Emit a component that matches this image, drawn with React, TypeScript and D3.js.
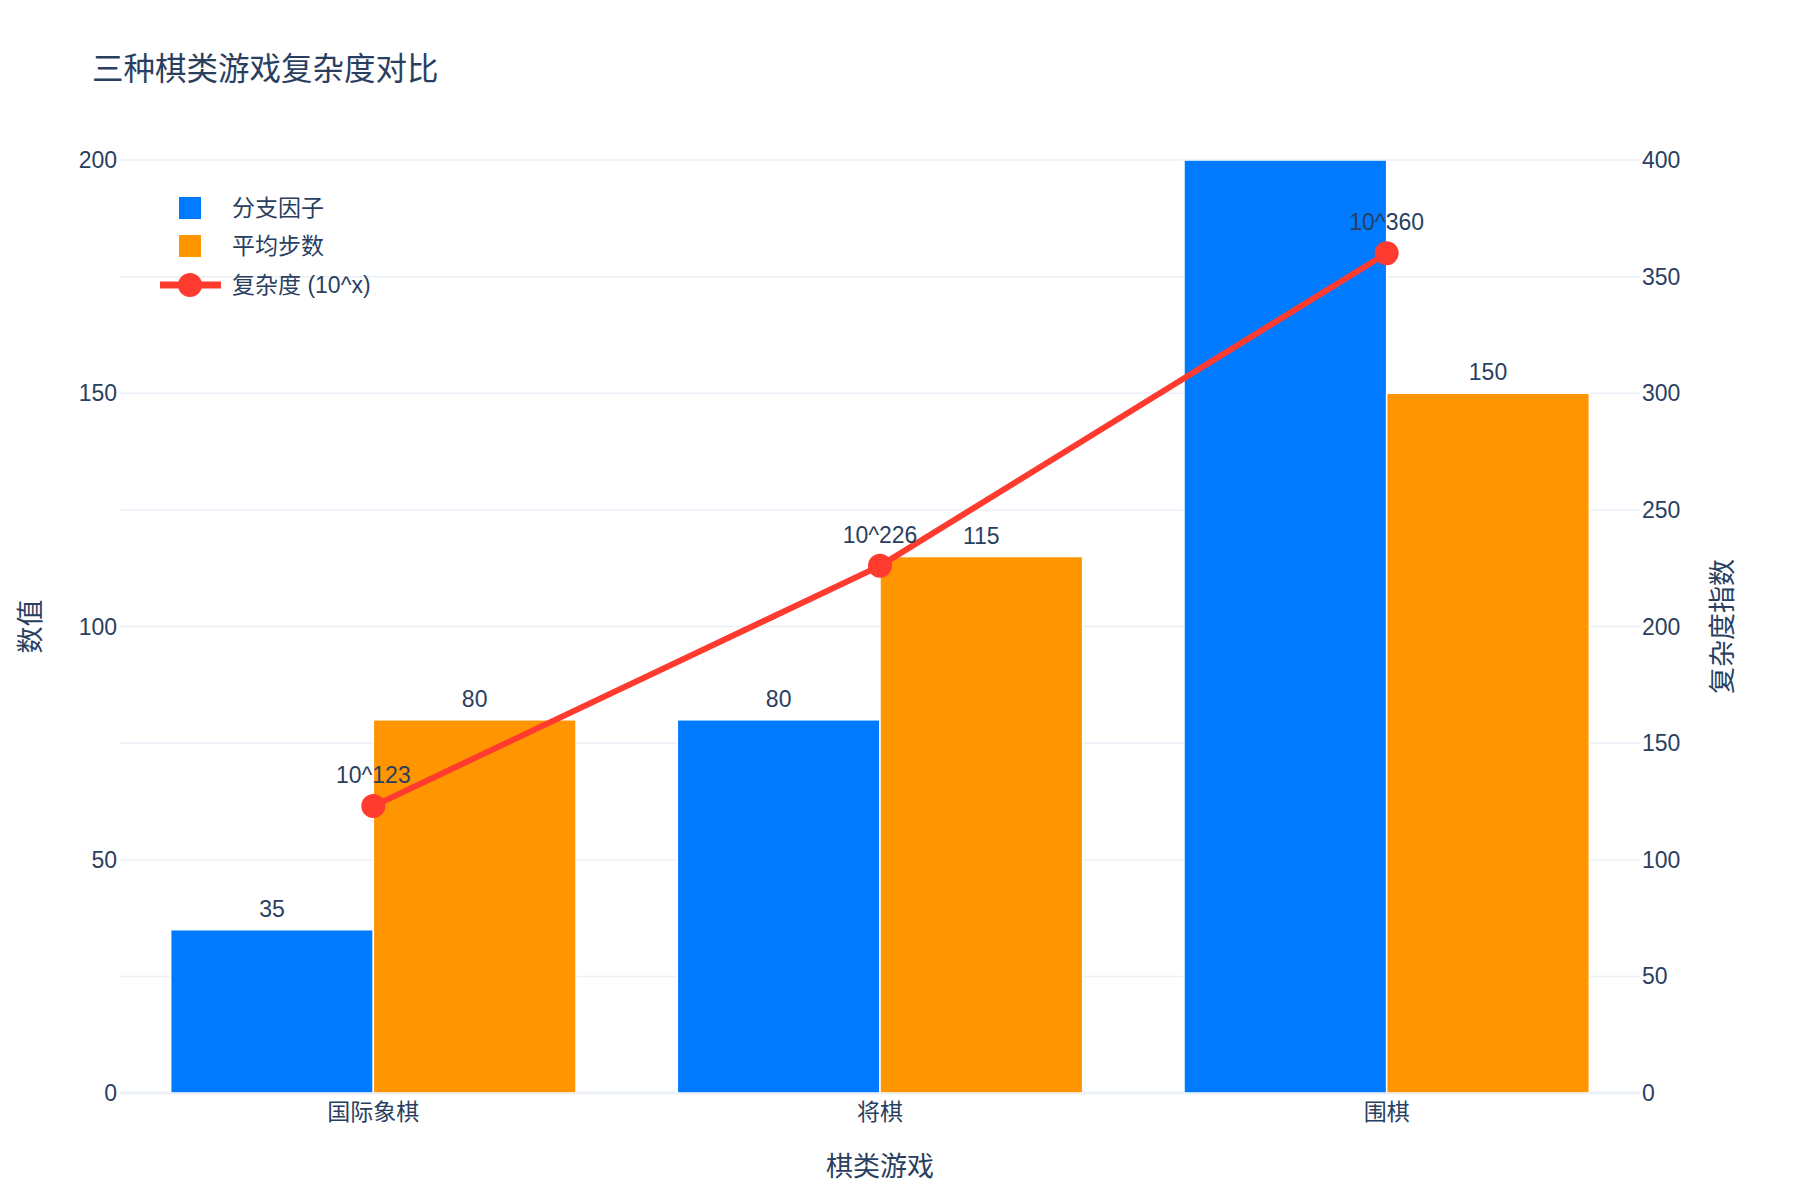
import * as d3 from 'd3'

const categories = ['国际象棋', '将棋', '围棋']
const branchFactor = [35, 80, 250]
const avgMoves = [80, 115, 150]
const complexity = [123, 226, 360]
const complexityLabels = ['10^123', '10^226', '10^360']
const leftTicks = [0, 50, 100, 150, 200]
const rightTicks = [0, 50, 100, 150, 200, 250, 300, 350, 400]

const seriesNames = ['分支因子', '平均步数', '复杂度 (10^x)']

const W = 1800
const H = 1200
const margin = { top: 160, right: 160, bottom: 107, left: 120 }
const FONT = '"Liberation Sans", Arial, "Noto Sans CJK SC", sans-serif'
const TEXT = '#2a3f5f'
const GRID = '#EBF0F8'
const BLUE = '#007AFF'
const ORANGE = '#FF9500'
const RED = '#FF3B30'

export default function App() {
  const x0 = margin.left
  const x1 = W - margin.right
  const yTop = margin.top
  const yBot = H - margin.bottom

  const x = d3.scaleBand<string>().domain(categories).range([x0, x1]).paddingInner(0.2).paddingOuter(0.1)
  // plotly style bargap: step per category, group = 80% of step
  const step = (x1 - x0) / categories.length
  const center = (i: number) => x0 + step * (i + 0.5)
  const groupW = step * 0.8
  const inner = d3.scaleBand<number>().domain([0, 1]).range([-groupW / 2, groupW / 2])

  const y = d3.scaleLinear().domain([0, 200]).range([yBot, yTop])
  const y2 = d3.scaleLinear().domain([0, 400]).range([yBot, yTop])

  const gridVals = Array.from(new Set([...leftTicks.map(t => y(t)), ...rightTicks.map(t => y2(t))]))

  const line = d3
    .line<number>()
    .x((_, i) => center(i))
    .y(d => y2(d))

  const bars = [
    { name: seriesNames[0], values: branchFactor, color: BLUE },
    { name: seriesNames[1], values: avgMoves, color: ORANGE },
  ]

  void x

  return (
    <svg width={W} height={H} style={{ position: 'absolute', left: 0, top: 0, background: '#fff' }} fontFamily={FONT}>
      <defs>
        <clipPath id="plot-clip">
          <rect x={x0} y={yTop} width={x1 - x0} height={yBot - yTop} />
        </clipPath>
      </defs>

      {/* title */}
      <text x={92} y={69 + 11} fontSize={31.5} fill={TEXT}>
        三种棋类游戏复杂度对比
      </text>

      {/* grid */}
      {gridVals.map(v => (
        <line key={v} x1={x0} x2={x1} y1={v} y2={v} stroke={GRID} strokeWidth={1.5} />
      ))}
      <line x1={x0} x2={x1} y1={yBot} y2={yBot} stroke={GRID} strokeWidth={3} />

      {/* bars */}
      <g clipPath="url(#plot-clip)">
        {bars.map((s, si) =>
          s.values.map((v, i) => {
            const bx = center(i) + inner(si)!
            const top = y(Math.min(v, 200))
            return (
              <rect
                key={s.name + i}
                x={bx}
                y={top}
                width={inner.bandwidth()}
                height={yBot - top}
                fill={s.color}
                stroke="#fff"
                strokeWidth={1.5}
              />
            )
          })
        )}
      </g>

      {/* bar labels */}
      {bars.map((s, si) =>
        s.values.map((v, i) =>
          v <= 200 ? (
            <text
              key={'l' + s.name + i}
              x={center(i) + inner(si)! + inner.bandwidth() / 2}
              y={y(v) - 13}
              textAnchor="middle"
              fontSize={23}
              fill={TEXT}
            >
              {v}
            </text>
          ) : null
        )
      )}

      {/* complexity line */}
      <path d={line(complexity) ?? ''} fill="none" stroke={RED} strokeWidth={6} />
      {complexity.map((v, i) => (
        <circle key={'m' + i} cx={center(i)} cy={y2(v)} r={12} fill={RED} />
      ))}
      {complexity.map((v, i) => (
        <text key={'t' + i} x={center(i)} y={y2(v) - 23} textAnchor="middle" fontSize={23} fill={TEXT}>
          {complexityLabels[i]}
        </text>
      ))}

      {/* left axis */}
      {leftTicks.map(t => (
        <text key={'yl' + t} x={117} y={y(t) + 8} textAnchor="end" fontSize={23} fill={TEXT}>
          {t}
        </text>
      ))}
      {/* right axis */}
      {rightTicks.map(t => (
        <text key={'yr' + t} x={1642} y={y2(t) + 8} textAnchor="start" fontSize={23} fill={TEXT}>
          {t}
        </text>
      ))}
      {/* x axis */}
      {categories.map((c, i) => (
        <text key={c} x={center(i)} y={1112 + 8} textAnchor="middle" fontSize={23} fill={TEXT}>
          {c}
        </text>
      ))}

      {/* axis titles */}
      <text x={880} y={1166 + 9.5} textAnchor="middle" fontSize={27} fill={TEXT}>
        棋类游戏
      </text>
      <text
        transform={`translate(${30 + 9.5},${(yTop + yBot) / 2}) rotate(-90)`}
        textAnchor="middle"
        fontSize={27}
        fill={TEXT}
      >
        数值
      </text>
      <text
        transform={`translate(${1722 + 9.5},${(yTop + yBot) / 2}) rotate(-90)`}
        textAnchor="middle"
        fontSize={27}
        fill={TEXT}
      >
        复杂度指数
      </text>

      {/* legend */}
      <g>
        <rect x={179} y={197} width={22} height={22} fill={BLUE} />
        <text x={232} y={208 + 8} fontSize={23} fill={TEXT}>
          {seriesNames[0]}
        </text>
        <rect x={179} y={235} width={22} height={22} fill={ORANGE} />
        <text x={232} y={246 + 8} fontSize={23} fill={TEXT}>
          {seriesNames[1]}
        </text>
        <line x1={160} x2={221} y1={285} y2={285} stroke={RED} strokeWidth={7} />
        <circle cx={190} cy={285} r={12} fill={RED} />
        <text x={232} y={285 + 8} fontSize={23} fill={TEXT}>
          {seriesNames[2]}
        </text>
      </g>
    </svg>
  )
}
